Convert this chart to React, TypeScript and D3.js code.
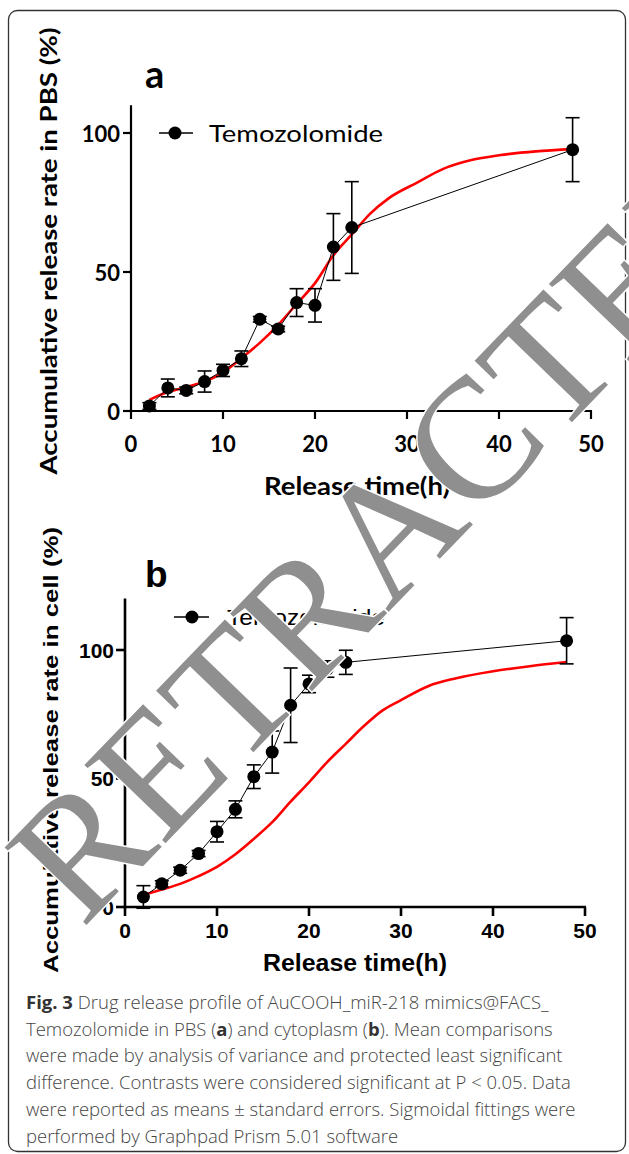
import React from "react";
import * as d3 from "d3";

// ---------- data ----------
const xTickValues = [0, 10, 20, 30, 40, 50];
const yTickValues = [0, 50, 100];

const timeA = [2, 4, 6, 8, 10, 12, 14, 16, 18, 20, 22, 24, 48];
const meanA = [1.8, 8.3, 7.4, 10.6, 14.6, 18.8, 33, 29.5, 39, 38, 59, 66, 94];
const semA = [1.2, 3.2, 1.2, 3.8, 2.2, 2.8, 1, 1, 5, 6, 12, 16.5, 11.5];
const fitTimeA = [2, 4, 6, 8, 10, 12, 14, 16, 18, 20, 22, 24, 26, 28, 31, 34, 37, 40, 44, 48];
const fitA = [4, 6.8, 8.6, 10.6, 13.8, 19, 24.5, 31, 38.5, 46, 56, 63.5, 71, 76.5, 82, 87.2, 90.3, 92, 93.4, 94.2];

const timeB = [2, 4, 6, 8, 10, 12, 14, 16, 18, 20, 22, 24, 48];
const meanB = [3.9, 9, 14.3, 20.8, 29.3, 38, 50.7, 60.3, 78.5, 86.8, 92.6, 95.2, 103.6];
const semB = [4.4, 1.2, 1.2, 1.2, 4, 3.3, 4.6, 8.2, 14.5, 3.4, 3.2, 4.7, 9];
const fitTimeB = [2, 4, 6, 8, 10, 12, 14, 16, 18, 20, 22, 24, 26, 28, 30, 33, 36, 40, 44, 48];
const fitB = [4.7, 6.8, 9, 12, 15.6, 20.5, 26.5, 33, 41, 48.5, 56.5, 63.5, 70.5, 76.5, 80.5, 86, 89, 91.7, 93.7, 95.3];

const seriesName = "Temozolomide";
const xTitle = "Release time(h)";
const yTitleA = "Accumulative release rate in PBS (%)";
const yTitleB = "Accumulative release rate in cell (%)";
const watermark = "RETRACTED";

type Cfg = {
  letter: string;
  left: number; right: number; bottom: number; y100: number; ymax: number;
  times: number[]; means: number[]; sems: number[]; fitT: number[]; fitY: number[];
  font: string; axisW: number; tickLen: number;
  tickFont: number; xTickY: number; yTickGap: number;
  yTitle: string; yTitleX: number; yTitleY: number; yTitleLen: number; yTitleFont: number;
  xTitleX: number; xTitleY: number; xTitleLen: number; xTitleFont: number;
  letterX: number; letterY: number; letterFont: number;
  legLineX1: number; legLineX2: number; legMarkX: number; legY: number; legTextX: number; legTextLen: number; legFont: number;
};

const Panel = ({ c }: { c: Cfg }) => {
  const x = d3.scaleLinear().domain([0, 50]).range([c.left, c.right]);
  const y = d3.scaleLinear().domain([0, 100]).range([c.bottom, c.y100]);
  const top = y(c.ymax);
  const fitLine = d3
    .line<number>()
    .x((_, i) => x(c.fitT[i]))
    .y((d) => y(d))
    .curve(d3.curveMonotoneX)(c.fitY) as string;
  const dataLine = d3
    .line<number>()
    .x((_, i) => x(c.times[i]))
    .y((d) => y(d))(c.means) as string;
  const cap = 7;
  return (
    <g>
      <line x1={x(0)} x2={x(0)} y1={top} y2={y(0) + c.axisW / 2} stroke="#000" strokeWidth={c.axisW} />
      <line x1={x(0) - c.axisW / 2} x2={x(50) + 1} y1={y(0)} y2={y(0)} stroke="#000" strokeWidth={c.axisW} />
      {xTickValues.map((t) => (
        <g key={"xt" + t}>
          <line x1={x(t)} x2={x(t)} y1={y(0)} y2={y(0) + c.tickLen} stroke="#000" strokeWidth={c.axisW} />
          <text x={x(t)} y={c.xTickY} textAnchor="middle" dominantBaseline="central" fontFamily={c.font} fontWeight={700} fontSize={c.tickFont}>
            {t}
          </text>
        </g>
      ))}
      {yTickValues.map((t) => (
        <g key={"yt" + t}>
          <line x1={x(0) - c.tickLen} x2={x(0)} y1={y(t)} y2={y(t)} stroke="#000" strokeWidth={c.axisW} />
          <text x={x(0) - c.tickLen - c.yTickGap} y={y(t)} textAnchor="end" dominantBaseline="central" fontFamily={c.font} fontWeight={700} fontSize={c.tickFont}>
            {t}
          </text>
        </g>
      ))}
      <text
        transform={`translate(${c.yTitleX},${c.yTitleY}) rotate(-90)`}
        textAnchor="middle"
        dominantBaseline="central"
        fontFamily={c.font}
        fontWeight={700}
        fontSize={c.yTitleFont}
        textLength={c.yTitleLen}
        lengthAdjust="spacingAndGlyphs"
      >
        {c.yTitle}
      </text>
      <text x={c.xTitleX} y={c.xTitleY} textAnchor="middle" dominantBaseline="central" fontFamily={c.font} fontWeight={700} fontSize={c.xTitleFont} textLength={c.xTitleLen} lengthAdjust="spacingAndGlyphs">
        {xTitle}
      </text>
      <text x={c.letterX} y={c.letterY} fontFamily={c.font} fontWeight={700} fontSize={c.letterFont}>
        {c.letter}
      </text>
      <line x1={c.legLineX1} x2={c.legLineX2} y1={c.legY} y2={c.legY} stroke="#000" strokeWidth={1.5} />
      <circle cx={c.legMarkX} cy={c.legY} r={6.5} fill="#000" />
      <text x={c.legTextX} y={c.legY} dominantBaseline="central" fontFamily={c.font} fontSize={c.legFont} textLength={c.legTextLen} lengthAdjust="spacingAndGlyphs">
        {seriesName}
      </text>
      <path d={fitLine} fill="none" stroke="#ff0000" strokeWidth={2.6} />
      <path d={dataLine} fill="none" stroke="#000" strokeWidth={1} />
      {c.times.map((t, i) => (
        <g key={"eb" + i} stroke="#000" strokeWidth={1.6}>
          <line x1={x(t)} x2={x(t)} y1={y(c.means[i] - c.sems[i])} y2={y(c.means[i] + c.sems[i])} />
          <line x1={x(t) - cap} x2={x(t) + cap} y1={y(c.means[i] + c.sems[i])} y2={y(c.means[i] + c.sems[i])} />
          <line x1={x(t) - cap} x2={x(t) + cap} y1={y(c.means[i] - c.sems[i])} y2={y(c.means[i] - c.sems[i])} />
        </g>
      ))}
      {c.times.map((t, i) => (
        <circle key={"pt" + i} cx={x(t)} cy={y(c.means[i])} r={6.5} fill="#000" />
      ))}
    </g>
  );
};

const cfgA: Cfg = {
  letter: "a",
  left: 131, right: 591, bottom: 411, y100: 133, ymax: 110,
  times: timeA, means: meanA, sems: semA, fitT: fitTimeA, fitY: fitA,
  font: "Lato, 'Open Sans', sans-serif", axisW: 2.2, tickLen: 8,
  tickFont: 22, xTickY: 443, yTickGap: 3,
  yTitle: yTitleA, yTitleX: 48, yTitleY: 251, yTitleLen: 447, yTitleFont: 22,
  xTitleX: 357, xTitleY: 485, xTitleLen: 186, xTitleFont: 24,
  letterX: 145, letterY: 88, letterFont: 38,
  legLineX1: 159, legLineX2: 193, legMarkX: 175, legY: 133, legTextX: 209, legTextLen: 174, legFont: 23,
};

const cfgB: Cfg = {
  letter: "b",
  left: 125, right: 585, bottom: 907, y100: 650, ymax: 120,
  times: timeB, means: meanB, sems: semB, fitT: fitTimeB, fitY: fitB,
  font: "'Liberation Sans', Arial, sans-serif", axisW: 2.6, tickLen: 9,
  tickFont: 21, xTickY: 930, yTickGap: 2,
  yTitle: yTitleB, yTitleX: 50, yTitleY: 750, yTitleLen: 446, yTitleFont: 21,
  xTitleX: 355, xTitleY: 963, xTitleLen: 184, xTitleFont: 23,
  letterX: 145, letterY: 587, letterFont: 37,
  legLineX1: 174, legLineX2: 209, legMarkX: 192, legY: 617, legTextX: 227, legTextLen: 158, legFont: 22,
};

const captionFont = "'Open Sans', 'Noto Sans', sans-serif";
const captionColor = "#444444";

export default function App() {
  const capX = 26;
  const capY0 = 1009;
  const capDy = 26.7;
  const cs = { fontFamily: captionFont, fontSize: 18.5, fill: captionColor, fontWeight: 300 } as const;
  return (
    <div style={{ position: "absolute", left: 0, top: 0 }}>
      <svg width={629} height={1154} viewBox="0 0 629 1154" style={{ display: "block", background: "#fff" }}>
        <rect x={0} y={0} width={629} height={1154} fill="#fff" />
        <rect x={8.5} y={10.5} width={617} height={1141} rx={9} fill="none" stroke="#333" strokeWidth={1.3} />
        <Panel c={cfgA} />
        <Panel c={cfgB} />
        <text x={capX} y={capY0} {...cs}>
          <tspan fontWeight={700} fill="#333">Fig. 3</tspan>
          <tspan>{" Drug release profile of AuCOOH_miR-218 mimics@FACS_"}</tspan>
        </text>
        <text x={capX} y={capY0 + capDy} {...cs}>
          <tspan>{"Temozolomide in PBS ("}</tspan>
          <tspan fontWeight={700} fill="#333">a</tspan>
          <tspan>{") and cytoplasm ("}</tspan>
          <tspan fontWeight={700} fill="#333">b</tspan>
          <tspan>{"). Mean comparisons"}</tspan>
        </text>
        <text x={capX} y={capY0 + 2 * capDy} {...cs}>
          were made by analysis of variance and protected least significant
        </text>
        <text x={capX} y={capY0 + 3 * capDy} {...cs}>
          {"difference. Contrasts were considered significant at P < 0.05. Data"}
        </text>
        <text x={capX} y={capY0 + 4 * capDy} {...cs}>
          {"were reported as means \u00b1 standard errors. Sigmoidal fittings were"}
        </text>
        <text x={capX} y={capY0 + 5 * capDy} {...cs}>
          performed by Graphpad Prism 5.01 software
        </text>
        <text
          transform="translate(434,565) rotate(-46)"
          textAnchor="middle"
          fontFamily="'Liberation Serif', 'Times New Roman', serif"
          fontSize={172}
          fill="#8f8f8f"
          stroke="#ffffff"
          strokeWidth={3}
          style={{ paintOrder: "stroke" }}
        >
          {watermark}
        </text>
      </svg>
    </div>
  );
}
